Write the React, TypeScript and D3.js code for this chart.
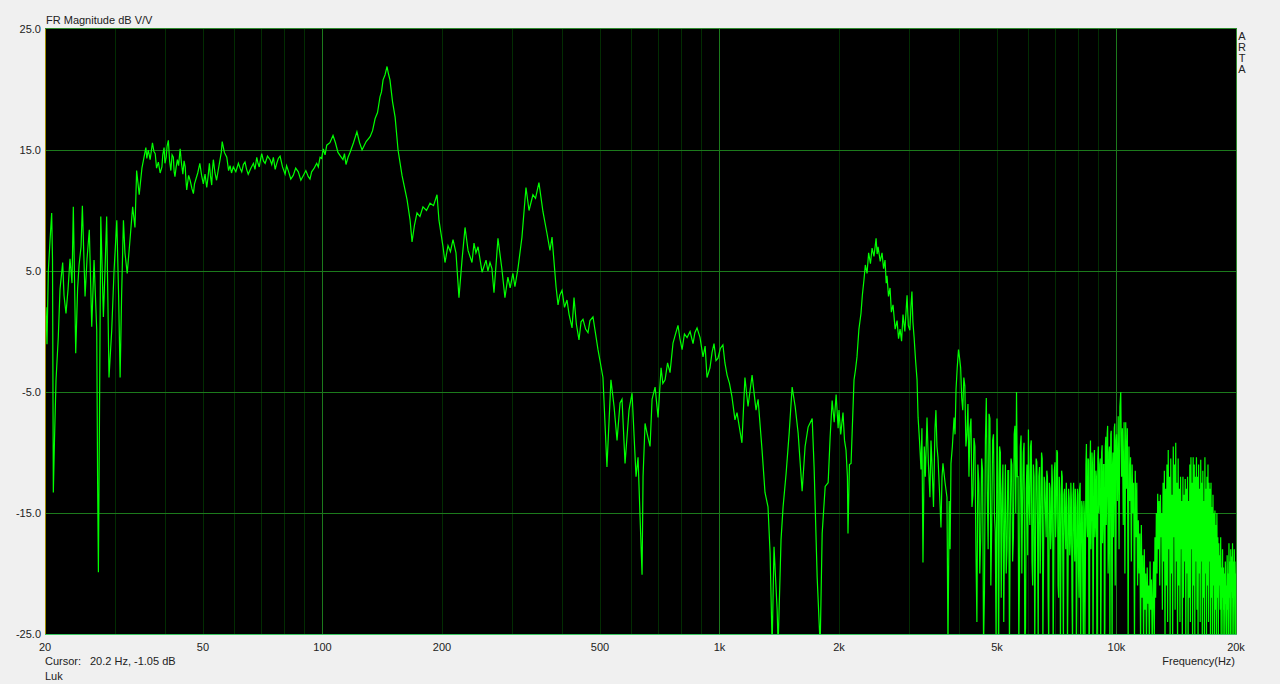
import React from 'react';
import * as d3 from 'd3';

// Hand read frequency response, [Hz, dB]
const LOW_BAND: [number, number][] = [
  [20.0, 0.5], [20.12, 2.0], [20.23, -1.05], [20.39, 5.0], [20.59, 7.5], [20.79, 9.8], [20.89, 6.0],
  [20.99, -13.3], [21.13, -9.0], [21.32, -4.0], [21.6, -0.5], [21.82, 3.5], [22.16, 5.7], [22.33, 3.0],
  [22.59, 1.5], [22.86, 3.5], [23.12, 6.0], [23.39, 4.0], [23.57, 10.3], [23.9, -1.8], [24.16, 3.5],
  [24.37, 5.5], [24.65, 7.0], [24.84, 10.4], [25.23, 2.9], [25.52, 6.0], [25.86, 8.4], [26.23, 0.4],
  [26.58, 5.9], [27.0, 0.1], [27.13, -12.0], [27.26, -19.9], [27.42, -8.0], [27.64, 9.5], [28.06, 1.2],
  [28.32, 5.0], [28.6, 9.5], [28.99, -3.8], [29.45, 0.1], [29.85, 5.0], [30.33, 9.2], [30.65, 3.0],
  [30.92, -3.8], [31.19, 3.0], [31.52, 9.2], [31.8, 6.5], [32.22, 4.8], [32.73, 7.5], [33.25, 10.3],
  [33.7, 8.6], [34.03, 13.3], [34.54, 11.3], [35.09, 13.5],
];

const PLATEAU: [number, number][] = [
  [35.9, 15.2], [36.1, 14.3], [36.4, 15.0], [36.8, 14.2], [37.3, 15.6], [37.6, 14.9], [37.9, 14.7],
  [38.2, 13.5], [38.6, 14.0], [39.0, 13.1], [39.4, 13.6], [39.6, 14.6], [39.9, 15.2], [40.1, 13.9],
  [40.4, 14.4], [40.6, 15.3], [40.9, 15.8], [41.2, 14.1], [41.5, 13.3], [41.8, 14.6], [42.1, 14.4],
  [42.3, 13.2], [42.5, 12.8], [42.8, 13.6], [43.1, 14.2], [43.4, 13.7], [43.8, 15.1], [44.1, 14.0],
  [44.5, 13.0], [44.8, 14.1], [45.1, 13.6], [45.3, 12.5], [45.5, 11.7], [46.0, 12.9], [46.4, 12.5],
  [46.9, 11.8], [47.3, 11.4], [47.6, 12.2], [48.0, 12.6], [48.5, 13.1], [49.1, 13.9], [49.6, 12.9],
  [50.1, 12.2], [50.6, 13.0], [51.1, 11.9], [51.5, 12.8], [51.9, 13.9], [52.2, 12.9], [52.6, 12.1],
  [52.8, 13.3], [53.1, 14.2], [53.6, 13.1], [54.1, 12.5], [54.6, 13.3], [55.2, 14.2], [55.6, 14.8],
  [55.9, 15.7], [56.6, 14.8], [57.4, 14.4], [58.0, 13.3], [58.5, 13.7], [59.0, 13.1], [59.6, 13.6],
  [60.5, 13.2], [61.4, 13.9], [62.0, 13.5], [62.6, 13.2], [63.2, 13.8], [63.8, 14.0], [64.4, 13.4],
  [65.0, 13.0], [66.0, 13.5], [67.0, 13.9], [67.6, 13.4], [68.3, 14.4], [68.8, 13.9], [69.3, 13.6],
  [69.8, 14.2], [70.3, 14.7], [71.0, 14.1], [71.7, 13.9], [72.7, 14.5], [73.8, 14.2], [74.5, 13.8],
  [75.2, 14.4], [76.0, 13.4], [76.7, 13.9], [77.4, 14.3], [78.2, 14.5], [79.3, 13.6], [80.5, 13.0],
  [81.2, 13.7], [82.0, 13.3], [83.2, 12.6], [84.4, 12.9], [85.6, 13.5], [86.9, 13.2], [88.2, 12.5],
  [89.5, 12.9], [90.8, 13.3], [92.1, 12.8], [93.0, 12.6], [93.9, 13.2], [95.3, 13.5], [96.7, 13.9],
  [97.6, 13.6], [98.6, 14.4], [99.5, 14.3], [100.5, 15.1], [101.5, 14.6], [102.5, 15.4], [104.4, 15.6],
  [106.3, 16.2], [107.8, 15.6], [109.4, 14.8], [111.0, 14.5], [112.6, 14.2], [113.6, 14.7], [114.6, 13.8],
  [116.0, 14.4], [117.3, 14.8], [119.7, 15.6], [122.1, 16.5], [124.0, 15.6], [125.8, 15.0], [128.8, 15.7],
  [131.8, 16.1], [133.7, 16.6], [135.7, 17.6], [137.6, 18.1], [139.6, 19.4], [140.8, 19.8], [142.1, 20.8],
  [143.7, 21.2], [145.4, 21.9], [146.6, 21.3], [147.9, 20.8], [150.1, 19.0], [152.4, 17.7], [155.0, 15.0],
  [158.6, 12.9], [163.3, 10.9], [166.2, 9.2], [168.1, 7.4], [170.5, 8.8], [173.0, 9.8], [176.0, 9.5],
  [179.1, 10.3], [182.8, 10.0], [186.6, 10.6], [190.4, 10.4], [194.3, 11.3], [196.5, 9.2],
];

const MID_BAND: [number, number][] = [
  [201.2, 7.0], [203.5, 5.7], [207.1, 7.1], [210.0, 6.6], [213.2, 7.6], [216.9, 6.5], [220.7, 2.8],
  [224.6, 5.9], [228.6, 8.6], [232.6, 6.7], [238.0, 5.7], [240.8, 7.3], [243.5, 6.5], [246.5, 7.0],
  [252.3, 4.9], [258.2, 5.9], [261.0, 5.0], [264.2, 5.7], [267.2, 5.2], [270.4, 3.2], [276.7, 7.7],
  [283.2, 5.1], [288.1, 2.8], [293.1, 4.5], [297.0, 3.6], [301.7, 4.8], [305.3, 3.7], [310.7, 5.2],
  [318.0, 7.8], [325.5, 11.9], [331.3, 10.0], [338.9, 11.3], [344.0, 11.0], [350.9, 12.3], [359.2, 9.9],
  [367.7, 8.1], [374.1, 6.7], [378.6, 7.8], [387.5, 3.7], [392.0, 2.2], [396.0, 3.0], [401.2, 3.4],
  [407.0, 2.0], [412.9, 2.6], [418.0, 1.4], [425.2, 0.3], [430.1, 2.8], [436.0, 0.6], [442.7, -0.7],
  [448.0, 0.8], [453.1, 1.0], [460.0, 0.2], [466.4, -0.1], [471.8, 0.9], [480.1, 1.2], [494.3, -1.5],
  [508.7, -3.8], [520.6, -11.2], [532.8, -4.0], [542.5, -6.2], [552.0, -9.0], [561.7, -5.9], [568.2, -5.6],
  [578.2, -10.9], [591.7, -6.5], [602.2, -5.1], [616.3, -12.0], [623.5, -10.4], [630.8, -15.3], [638.2, -20.1],
  [641.9, -12.0], [649.4, -7.6], [656.9, -8.4], [668.5, -9.5], [676.4, -5.6], [688.3, -4.6], [700.3, -7.1],
  [712.6, -3.0], [720.0, -4.3], [729.3, -4.0], [740.0, -2.6], [750.6, -3.4], [763.7, -0.95], [775.0, -0.2],
  [786.1, 0.5], [795.0, -0.6], [805.0, -1.5], [816.0, -0.2], [828.6, -0.5], [843.1, 0.0], [857.8, -1.0],
  [867.0, -0.1], [877.9, 0.3], [893.3, -0.5], [908.9, -2.1], [920.0, -1.2], [930.2, -3.8], [946.4, -3.0],
  [958.0, -1.7], [968.7, -1.0], [980.0, -2.4], [991.4, -2.2], [1005, -1.4], [1020, -1.1], [1032, -2.6],
  [1045, -3.6], [1060, -4.3], [1075, -5.4], [1094, -7.3], [1107, -6.7], [1139, -9.2], [1159, -3.8],
  [1180, -6.2], [1208, -3.6], [1236, -6.5], [1251, -5.6], [1280, -9.8], [1302, -13.3], [1325, -14.5],
  [1341, -18.3], [1357, -26.0], [1372, -17.8], [1397, -23.0], [1405, -26.0], [1429, -17.2], [1446, -14.5],
  [1472, -11.7], [1498, -8.4], [1524, -4.6], [1551, -6.2], [1578, -8.4], [1615, -13.2], [1643, -9.5],
  [1672, -7.9], [1712, -7.2], [1731, -11.2], [1762, -20.3], [1793, -26.0], [1814, -16.7], [1846, -12.8],
  [1878, -12.5], [1900, -8.7], [1922, -5.7], [1945, -7.5], [1967, -5.2], [1990, -8.0], [2000, -6.5],
];

const UPPER_MID: [number, number][] = [
  [2020, -8.5], [2047, -6.7], [2065, -9.0], [2083, -9.8], [2100, -12.0], [2107, -16.7], [2125, -11.0],
  [2145, -10.9], [2182, -4.0], [2200, -3.2], [2220, -2.1], [2245, 0.2], [2272, 1.5], [2290, 3.0],
  [2312, 4.3], [2330, 5.5], [2353, 4.8], [2375, 6.5], [2400, 5.6], [2423, 6.9], [2450, 6.2], [2480, 7.7],
  [2495, 6.4], [2509, 7.0], [2540, 5.8], [2567, 6.5], [2590, 5.2], [2612, 5.9], [2630, 4.0], [2642, 4.6],
  [2665, 2.9], [2689, 3.6], [2710, 1.6], [2736, 2.2], [2770, 0.2], [2801, 0.9], [2825, -0.6], [2850, 0.2],
  [2875, -0.8], [2899, 1.4], [2930, 0.0], [2968, 3.0], [2990, 0.5], [3017, 0.1], [3035, 2.0], [3053, 3.3],
  [3070, 0.8], [3092, -0.5], [3120, -2.5], [3145, -4.0], [3164, -7.1], [3190, -9.0], [3218, -11.4],
  [3235, -8.0], [3255, -19.1], [3280, -9.5], [3300, -12.0], [3332, -7.1], [3360, -11.0], [3389, -13.7],
  [3410, -9.0], [3429, -10.9], [3460, -14.5], [3490, -8.0], [3509, -6.5], [3530, -9.5], [3551, -10.4],
  [3580, -13.0], [3613, -16.2], [3635, -12.0], [3655, -10.9], [3700, -12.5], [3741, -13.7], [3763, -26.0],
  [3790, -14.0], [3810, -18.0], [3829, -10.9], [3860, -9.5], [3898, -7.1], [3920, -8.5], [3943, -4.8],
  [3970, -3.0],
];

// above 4 kHz the data sits on FFT bins: 25 Hz apart up to 10 kHz, 50 Hz above
const BIN_NARROW_HZ = 25;
const BIN_WIDE_HZ = 50;
const HF_4K = [
  -1.5, -2.2, -3.0, -5.5, -6.5, -3.8, -4.5, -9.5, -8.5, -6.0,
  -12.0, -8.0, -7.2, -14.5, -13.5, -8.8, -9.5, -18.0, -24.0, -11.0,
  -12.5, -20.0, -17.0, -10.5, -11.5, -26.0, -21.5, -9.0, -5.5, -13.0,
  -18.0, -6.8, -7.2, -21.0, -16.0, -9.0, -8.5, -15.0, -16.5, -26.0,
  -7.2, -12.0, -26.0, -9.5, -10.0, -22.0, -13.5, -11.0, -24.0, -16.0,
  -11.0, -20.0, -18.0, -11.5, -11.5, -26.0, -16.0, -10.5, -11.0, -19.0,
  -17.0, -8.5, -7.8, -15.0, -5.0, -12.0, -12.0, -26.0, -19.5, -9.5,
  -8.6, -20.0, -14.0, -10.0, -9.2, -26.0, -24.5, -13.0, -11.0, -18.5,
];
const HF_6K = [
  -8.1, -14.0, -16.0, -9.5, -9.0, -19.0, -21.0, -11.0, -12.0, -26.0,
  -18.0, -10.5, -10.8, -16.0, -26.0, -12.0, -11.2, -20.0, -15.5, -10.0,
  -10.5, -26.0, -19.0, -12.0, -12.5, -15.0, -17.0, -11.5, -12.0, -22.0,
  -26.0, -12.5, -13.0, -18.0, -16.5, -11.0, -12.5, -26.0, -20.0, -11.5,
  -10.8, -17.0, -15.0, -9.8, -10.0, -21.0, -22.0, -12.0, -13.5, -26.0,
  -17.0, -11.5, -12.0, -19.0, -26.0, -13.5, -13.0, -16.0, -18.0, -12.5,
  -14.5, -26.0, -20.5, -13.0, -13.8, -18.5, -17.5, -12.5, -14.0, -22.0,
  -26.0, -13.5, -12.5, -16.5, -19.0, -13.0, -14.5, -26.0, -21.0, -13.0,
];
const HF_8K = [
  -13.5, -20.0, -22.0, -13.0, -12.5, -26.0, -18.0, -14.0, -14.5, -21.0,
  -26.0, -14.0, -15.0, -26.0, -19.0, -11.0, -9.3, -16.0, -17.0, -10.5,
  -10.6, -26.0, -24.5, -11.0, -9.0, -18.0, -15.0, -10.0, -11.0, -26.0,
  -20.0, -10.5, -9.8, -17.0, -16.0, -11.5, -12.0, -26.0, -24.5, -10.5,
  -9.5, -15.0, -14.0, -11.0, -10.5, -26.0, -21.0, -10.0, -9.4, -17.5,
  -15.5, -11.0, -11.0, -26.0, -24.5, -9.5, -8.7, -16.0, -13.0, -8.5,
  -7.8, -20.0, -18.0, -10.0, -9.5, -26.0, -14.0, -8.5, -8.2, -19.0,
  -26.0, -11.0, -10.0, -17.0, -13.0, -8.0, -7.6, -21.0, -16.0, -9.0,
];
const HF_10K = [
  -8.5, -14, -7.0, -18, -6.2, -5.0, -12, -8.0, -16, -7.5,
  -20, -7.5, -13, -8.0, -26, -9.5, -14, -10.4, -19, -11,
  -15, -12.5, -26, -11.5, -17, -12.5, -21, -15.6, -20, -16.7,
  -26, -16, -22, -18.5, -26, -18, -23, -20, -26, -19.5,
  -22.5, -21, -26, -19, -23, -20.5, -26, -22, -19, -26,
  -17, -22, -15, -20, -13.4, -18, -14, -21, -13.5, -17,
];
const HF_13K = [
  -15, -23, -12.5, -19, -11.5, -26, -13, -21, -11, -24,
  -9.8, -18, -12, -26, -10.5, -20, -13.5, -26, -9.5, -17,
  -11, -23, -9.2, -19, -12.5, -26, -10.5, -21, -13, -24,
  -12, -18, -14, -26, -12, -22, -13.5, -19, -12.2, -26,
  -13, -20, -12, -26, -14, -22, -11, -24, -10.4, -18,
  -12.5, -26, -10.4, -21, -11, -25, -12, -19, -10.4, -23,
];
const HF_16K = [
  -12, -26, -11, -20, -13, -24, -10.6, -19, -12.5, -26,
  -11.5, -22, -14, -25, -10.4, -20, -13, -26, -12, -21,
  -11, -24, -12.5, -19, -13, -26, -12.5, -22, -14.5, -25,
  -13.5, -21, -15, -26, -14.8, -23, -16, -25, -15, -22,
  -17, -26, -17.5, -21, -18.5, -23, -17, -26, -19.5, -22,
  -18, -26, -19.5, -23, -20, -26, -19, -22.5, -21, -26,
  -18.5, -23, -20, -26, -17.5, -22, -19, -26, -18, -21.5,
  -18.6, -26, -17.5, -22, -19, -26, -18, -21, -20, -26,
  -19,
];

const Y_TICKS = [25, 15, 5, -5, -15, -25];
const X_TICKS = [20, 50, 100, 200, 500, 1000, 2000, 5000, 10000, 20000];
const X_TICK_LABELS = ['20', '50', '100', '200', '500', '1k', '2k', '5k', '10k', '20k'];
const GRID_MINOR = [30, 40, 50, 60, 70, 80, 90, 200, 300, 400, 500, 600, 700, 800, 900,
  2000, 3000, 4000, 5000, 6000, 7000, 8000, 9000];
const GRID_MAJOR = [100, 1000, 10000];

const bins = (start: number, step: number, values: number[]): [number, number][] =>
  values.map((v, i) => [start + i * step, v]);

const FONT = '"Liberation Sans", Arial, sans-serif';

export default function App() {
  const W = 1280, H = 684;
  const left = 45, top = 29, right = 1236, bottom = 634;

  const x = d3.scaleLog().domain([20, 20000]).range([left, right]);
  const y = d3.scaleLinear().domain([-25, 25]).range([bottom, top]);
  const px = (v: number) => Math.round(v) + 0.5;

  const data: [number, number][] = [
    ...LOW_BAND, ...PLATEAU, ...MID_BAND, ...UPPER_MID,
    ...bins(4000, BIN_NARROW_HZ, HF_4K), ...bins(6000, BIN_NARROW_HZ, HF_6K),
    ...bins(8000, BIN_NARROW_HZ, HF_8K), ...bins(10000, BIN_WIDE_HZ, HF_10K),
    ...bins(13000, BIN_WIDE_HZ, HF_13K), ...bins(16000, BIN_WIDE_HZ, HF_16K),
  ];

  const line = d3.line<[number, number]>()
    .x(d => x(d[0]))
    .y(d => y(d[1]));

  return (
    <div style={{ position: 'absolute', left: 0, top: 0, width: W, height: H, background: '#f0f0f0' }}>
      <svg width={W} height={H} style={{ display: 'block' }} fontFamily={FONT} fontSize={11}>
        <defs>
          <clipPath id="plot-clip">
            <rect x={left} y={top} width={right - left} height={bottom - top} />
          </clipPath>
        </defs>

        <rect x={left} y={top} width={right - left} height={bottom - top} fill="#000" />

        {/* grid */}
        <g shapeRendering="crispEdges">
          {GRID_MINOR.map(f => (
            <line key={'m' + f} x1={px(x(f))} x2={px(x(f))} y1={top} y2={bottom} stroke="#022c02" />
          ))}
          {GRID_MAJOR.map(f => (
            <line key={'M' + f} x1={px(x(f))} x2={px(x(f))} y1={top} y2={bottom} stroke="#1c7a1c" />
          ))}
          {Y_TICKS.slice(1, -1).map(v => (
            <line key={'h' + v} x1={left} x2={right} y1={px(y(v))} y2={px(y(v))} stroke="#1c7a1c" />
          ))}
        </g>

        {/* trace */}
        <path d={line(data) ?? ''} fill="none" stroke="#00ff00" strokeWidth={1.2}
          strokeLinejoin="miter" clipPath="url(#plot-clip)" />

        {/* frame */}
        <g shapeRendering="crispEdges">
          <line x1={left} x2={right + 1} y1={top - 0.5} y2={top - 0.5} stroke="#2e8b2e" />
          <line x1={right + 0.5} x2={right + 0.5} y1={top} y2={bottom} stroke="#2e8b2e" />
          <line x1={left} x2={right + 1} y1={bottom + 0.5} y2={bottom + 0.5} stroke="#3cc864" />
          <line x1={left + 0.5} x2={left + 0.5} y1={top} y2={bottom} stroke="#a08c00" />
        </g>

        {/* axis labels */}
        {Y_TICKS.map(v => (
          <text key={'yt' + v} x={41} y={y(v)} dy="0.35em" textAnchor="end" fill="#222">
            {v.toFixed(1)}
          </text>
        ))}
        {X_TICKS.map((f, i) => (
          <text key={'xt' + f} x={x(f)} y={651} textAnchor="middle" fill="#222">
            {X_TICK_LABELS[i]}
          </text>
        ))}

        <text x={46} y={24} fill="#222">FR Magnitude dB V/V</text>
        <text x={1235} y={665} textAnchor="end" fill="#222">Frequency(Hz)</text>
        <text x={45} y={665} fill="#222">Cursor:</text>
        <text x={90} y={665} fill="#222">20.2 Hz, -1.05 dB</text>
        <text x={45} y={680} fill="#222">Luk</text>
        {['A', 'R', 'T', 'A'].map((c, i) => (
          <text key={'arta' + i} x={1242} y={40 + i * 11} textAnchor="middle" fill="#222">{c}</text>
        ))}
      </svg>
    </div>
  );
}
